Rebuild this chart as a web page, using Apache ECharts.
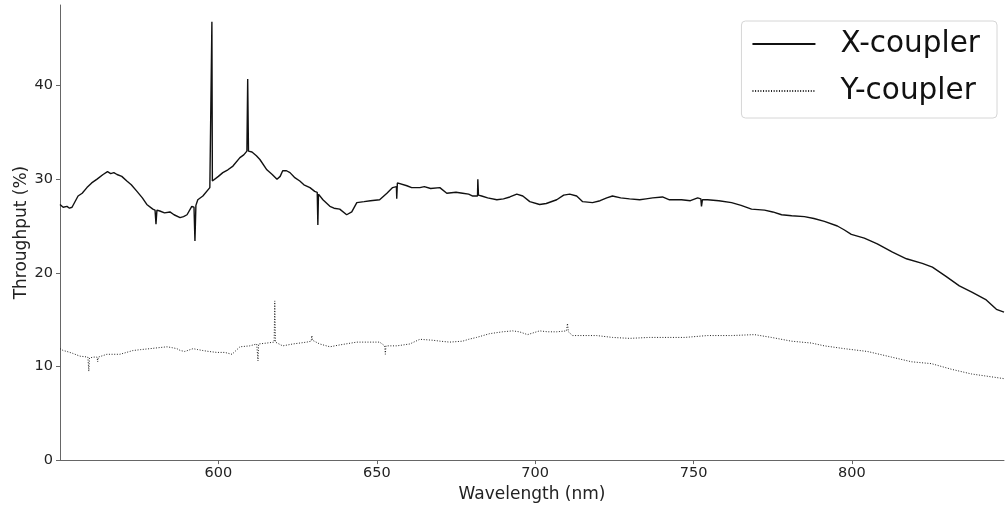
<!DOCTYPE html>
<html>
<head>
<meta charset="utf-8">
<script src="https://cdn.jsdelivr.net/npm/echarts@6/dist/echarts.min.js"></script>
<style>
html,body{margin:0;padding:0;background:#fff;}
#chart{width:1005px;height:508px;}
</style>
</head>
<body>
<div id="chart"></div>
<script>
// ---- data ----
const seriesNames = ['X-coupler', 'Y-coupler'];
const xTicks = [600, 650, 700, 750, 800];
const yTicks = [0, 10, 20, 30, 40];

const xcWave = [550.0,551.0,552.2,553.0,553.8,555.7,557.0,558.5,560.0,561.7,563.6,565.0,566.0,567.0,568.0,569.5,571.1,572.5,574.3,576.0,577.4,579.3,580.0,580.3,580.6,581.5,583.0,584.7,586.0,587.9,589.0,590.1,591.6,592.3,592.6,592.9,593.5,595.1,597.3,597.8,597.95,598.1,598.3,600.0,601.4,603.0,604.6,606.8,608.0,609.0,609.25,609.5,610.6,612.0,613.1,615.3,617.0,618.5,619.5,620.3,621.5,622.6,624.0,625.7,627.0,628.9,630.4,631.2,631.4,631.6,633.0,635.2,636.5,638.3,640.5,642.1,643.7,646.0,648.0,650.9,653.2,655.0,656.2,656.3,656.5,657.0,659.5,661.0,663.6,665.0,667.0,669.9,672.1,675.0,677.1,679.0,680.3,681.8,681.9,682.1,683.1,685.0,687.9,690.0,692.0,694.2,696.1,698.3,701.4,703.5,706.8,709.0,710.9,713.1,715.0,718.1,720.5,722.6,724.4,727.0,729.8,733.0,735.0,737.1,740.2,742.4,746.2,749.0,751.3,752.3,752.5,752.8,754.4,758.0,762.0,765.0,768.3,772.4,775.0,777.8,781.0,785.0,788.0,791.3,795.4,797.5,799.8,803.9,808.0,812.8,817.2,822.2,825.4,829.8,833.9,838.0,842.4,845.6,848.0];
const xcThroughput = [27.3,27.0,27.1,26.9,27.0,28.2,28.5,29.1,29.6,30.0,30.5,30.8,30.6,30.7,30.5,30.3,29.8,29.4,28.7,28.0,27.3,26.8,26.7,25.2,26.7,26.6,26.4,26.5,26.2,25.9,26.0,26.2,27.1,27.0,23.4,27.2,27.8,28.2,29.1,29.3,46.8,29.8,30.0,30.3,30.7,31.0,31.4,32.3,32.6,33.0,40.7,33.0,32.9,32.5,32.1,31.0,30.5,30.0,30.3,30.9,30.9,30.7,30.2,29.8,29.4,29.1,28.7,28.6,25.1,28.4,27.8,27.1,26.9,26.8,26.2,26.5,27.5,27.6,27.7,27.8,28.5,29.1,29.2,27.9,29.6,29.4,29.3,29.1,29.1,29.2,29.0,29.1,28.5,28.6,28.5,28.4,28.2,28.2,30.0,28.3,28.2,28.0,27.8,27.9,28.1,28.4,28.2,27.6,27.3,27.4,27.8,28.3,28.4,28.2,27.6,27.5,27.7,28.0,28.2,28.0,27.9,27.8,27.9,28.0,28.1,27.8,27.8,27.7,28.0,27.9,27.1,27.8,27.8,27.7,27.5,27.2,26.8,26.7,26.5,26.2,26.1,26.0,25.8,25.5,25.0,24.6,24.1,23.7,23.1,22.2,21.5,21.0,20.6,19.6,18.6,17.9,17.1,16.1,15.8];

const ycWave = [550.0,551.0,552.2,554.0,556.3,558.8,559.0,559.1,559.3,560.5,561.7,561.9,562.1,564.8,567.0,568.9,571.0,573.0,575.5,578.4,581.0,583.8,585.5,586.9,588.0,589.4,592.0,593.5,595.1,597.0,599.5,602.0,604.3,606.8,609.9,612.1,612.3,612.5,612.7,615.3,617.6,617.8,618.0,620.3,623.5,627.9,629.3,629.5,629.7,632.0,635.2,638.3,643.7,647.0,650.9,652.5,652.7,652.9,656.3,660.4,663.6,667.7,670.0,673.0,677.1,679.0,681.5,685.6,689.7,692.9,695.0,697.6,701.4,704.0,706.8,709.9,710.2,710.5,711.8,715.0,719.4,724.4,729.8,736.1,742.4,747.2,754.4,762.0,769.2,774.6,780.9,787.2,791.3,797.6,804.9,812.5,818.8,825.1,831.4,837.7,841.8,848.0];
const ycThroughput = [11.9,11.7,11.6,11.4,11.1,11.0,10.9,9.5,10.9,11.0,11.0,10.5,11.0,11.3,11.3,11.3,11.5,11.7,11.8,11.9,12.0,12.1,12.0,11.9,11.7,11.6,11.9,11.8,11.7,11.6,11.5,11.5,11.3,12.1,12.2,12.4,12.4,10.6,12.4,12.5,12.6,17.0,12.6,12.2,12.4,12.6,12.7,13.3,12.8,12.4,12.1,12.3,12.6,12.6,12.6,12.2,11.3,12.2,12.2,12.4,12.9,12.8,12.7,12.6,12.7,12.9,13.1,13.5,13.7,13.8,13.7,13.4,13.8,13.7,13.7,13.8,14.6,13.7,13.3,13.3,13.3,13.1,13.0,13.1,13.1,13.1,13.3,13.3,13.4,13.1,12.7,12.5,12.2,11.9,11.6,11.0,10.5,10.3,9.7,9.2,9.0,8.7];

// ---- chart ----
const pairs = (xs, ys) => xs.map((x, i) => [x, ys[i]]);
const FONT = 'DejaVu Sans';
const chart = echarts.init(document.getElementById('chart'), null, {renderer: 'canvas'});
chart.setOption({
  animation: false,
  backgroundColor: '#fff',
  textStyle: {fontFamily: FONT},
  grid: {left: 60, right: 1, top: 5, bottom: 46.5, containLabel: false},
  xAxis: {
    type: 'value', min: 550, max: 848, interval: 50,
    name: 'Wavelength (nm)', nameLocation: 'middle', nameGap: 24,
    nameTextStyle: {fontFamily: FONT, fontSize: 17, color: '#222'},
    axisLine: {show: true, lineStyle: {color: '#666', width: 1}},
    axisTick: {show: true, length: 4, inside: false, customValues: xTicks, lineStyle: {color: '#666'}},
    axisLabel: {customValues: xTicks, fontFamily: FONT, fontSize: 14.5, color: '#222', margin: 6},
    splitLine: {show: false}
  },
  yAxis: {
    type: 'value', min: 0, max: 48.6, interval: 10,
    name: 'Throughput (%)', nameLocation: 'middle', nameGap: 30, nameMoveOverlap: false,
    nameTextStyle: {fontFamily: FONT, fontSize: 17, color: '#222'},
    axisLine: {show: true, lineStyle: {color: '#666', width: 1}},
    axisTick: {show: true, length: 4, inside: false, customValues: yTicks, lineStyle: {color: '#666'}},
    axisLabel: {customValues: yTicks, fontFamily: FONT, fontSize: 14.5, color: '#222', margin: 7},
    splitLine: {show: false}
  },
  legend: {
    orient: 'vertical', right: 8, top: 21,
    padding: [6, 17, 10, 10], itemGap: 13, itemWidth: 63, itemHeight: 14,
    backgroundColor: '#fff', borderColor: '#d6d6d6', borderWidth: 1, borderRadius: 4,
    itemStyle: {opacity: 0},
    textStyle: {fontFamily: FONT, fontSize: 29.5, color: '#111', lineHeight: 34, padding: [0, 0, 0, 20]},
    data: seriesNames
  },
  series: [
    {
      name: seriesNames[0], type: 'line', data: pairs(xcWave, xcThroughput),
      symbol: 'none', showSymbol: false, smooth: false,
      lineStyle: {color: '#111', width: 1.4, type: 'solid'},
      itemStyle: {color: '#111'}
    },
    {
      name: seriesNames[1], type: 'line', data: pairs(ycWave, ycThroughput),
      symbol: 'none', showSymbol: false, smooth: false,
      lineStyle: {color: '#222', width: 1, type: [1, 1.65]},
      itemStyle: {color: '#222'}
    }
  ]
});
</script>
</body>
</html>
